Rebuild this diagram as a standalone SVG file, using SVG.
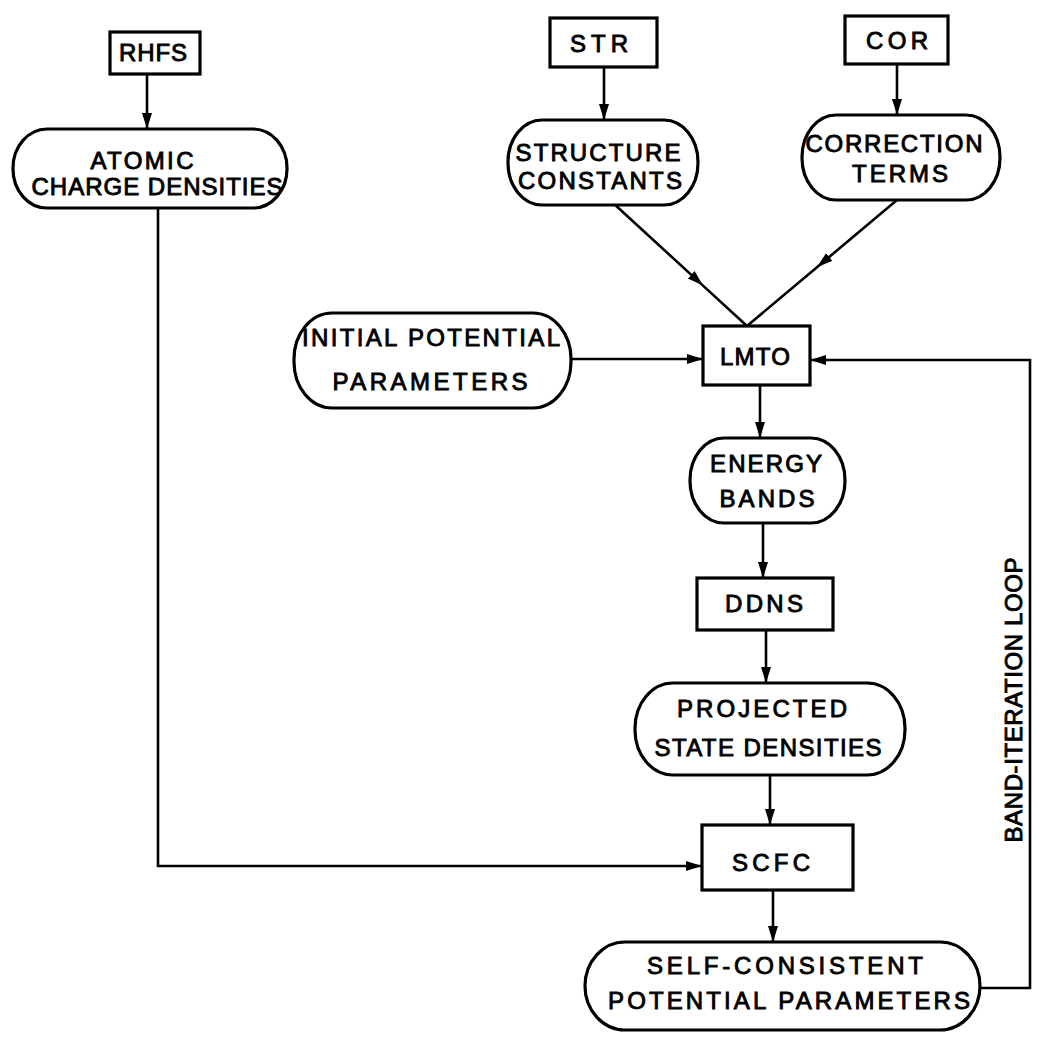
<svg xmlns="http://www.w3.org/2000/svg" width="1038" height="1037" viewBox="0 0 1038 1037">
<defs>
<style>
.box{fill:#fff;stroke:#000;stroke-width:3.2}
.t{font-family:"Liberation Sans",Arial,sans-serif;font-size:24px;fill:#000;stroke:#000;stroke-width:0.9;text-anchor:middle}
.c{fill:none;stroke:#000;stroke-width:2.6}
</style>
<marker id="ah" markerUnits="userSpaceOnUse" markerWidth="18" markerHeight="12" refX="16" refY="5" orient="auto">
<path d="M0,0 L16,5 L0,10 Z" fill="#000"/>
</marker>
</defs>
<rect width="1038" height="1037" fill="#fff"/>
<g id="connectors">
<path class="c" d="M147 74 V129" marker-end="url(#ah)"/>
<path class="c" d="M604 67 V120" marker-end="url(#ah)"/>
<path class="c" d="M897 64 V115" marker-end="url(#ah)"/>
<path class="c" d="M613 203 L703 285.6 L747 326" marker-mid="url(#ah)"/>
<path class="c" d="M897 200 L817 267.2 L747 326" marker-mid="url(#ah)"/>
<path class="c" d="M571 359 H703" marker-end="url(#ah)"/>
<path class="c" d="M760 385 V438" marker-end="url(#ah)"/>
<path class="c" d="M763 523 V578" marker-end="url(#ah)"/>
<path class="c" d="M766 630 V683" marker-end="url(#ah)"/>
<path class="c" d="M770 775 V825" marker-end="url(#ah)"/>
<path class="c" d="M773 890 V942" marker-end="url(#ah)"/>
<path class="c" d="M158 208 V866 H702" marker-end="url(#ah)"/>
<path class="c" d="M980 988 H1030 V360 H810" marker-end="url(#ah)"/>
</g>
<g id="rhfs"><rect class="box" x="110" y="32" width="90" height="42"/><text class="t" x="153" y="61" textLength="68">RHFS</text></g>
<g id="atomic"><rect class="box" x="13" y="129" width="274" height="79" rx="34" ry="39"/><text class="t" x="142" y="169" textLength="103">ATOMIC</text><text class="t" x="157" y="195" textLength="251">CHARGE DENSITIES</text></g>
<g id="str"><rect class="box" x="550" y="18" width="107" height="49"/><text class="t" x="599" y="52" textLength="58">STR</text></g>
<g id="structure"><rect class="box" x="508" y="120" width="190" height="85" rx="34" ry="42"/><text class="t" x="598" y="161" textLength="165">STRUCTURE</text><text class="t" x="600" y="189" textLength="164">CONSTANTS</text></g>
<g id="cor"><rect class="box" x="845" y="16" width="103" height="48"/><text class="t" x="897" y="49" textLength="62">COR</text></g>
<g id="correction"><rect class="box" x="802" y="115" width="198" height="85" rx="34" ry="42"/><text class="t" x="894" y="152" textLength="177">CORRECTION</text><text class="t" x="900" y="182" textLength="96">TERMS</text></g>
<g id="initial"><rect class="box" x="294" y="313" width="277" height="95" rx="38" ry="46"/><text class="t" x="431" y="346" textLength="258">INITIAL POTENTIAL</text><text class="t" x="430" y="390" textLength="195">PARAMETERS</text></g>
<g id="lmto"><rect class="box" x="703" y="326" width="107" height="59"/><text class="t" x="755" y="365" textLength="70">LMTO</text></g>
<g id="energy"><rect class="box" x="690" y="438" width="155" height="85" rx="34" ry="42"/><text class="t" x="766" y="472" textLength="112">ENERGY</text><text class="t" x="767" y="507" textLength="95">BANDS</text></g>
<g id="ddns"><rect class="box" x="697" y="578" width="136" height="52"/><text class="t" x="764" y="612" textLength="78">DDNS</text></g>
<g id="projected"><rect class="box" x="635" y="683" width="270" height="92" rx="38" ry="45"/><text class="t" x="762" y="717" textLength="170">PROJECTED</text><text class="t" x="768" y="756" textLength="227">STATE DENSITIES</text></g>
<g id="scfc"><rect class="box" x="702" y="825" width="151" height="65"/><text class="t" x="771" y="871" textLength="78">SCFC</text></g>
<g id="selfconsistent"><rect class="box" x="585" y="942" width="395" height="88" rx="40" ry="44"/><text class="t" x="785" y="974" textLength="276">SELF-CONSISTENT</text><text class="t" x="789" y="1009" textLength="362">POTENTIAL PARAMETERS</text></g>
<g id="loop-label"><text class="t" transform="translate(1013,700) rotate(-90)" x="0" y="8.6" textLength="285">BAND-ITERATION  LOOP</text></g>
</svg>
